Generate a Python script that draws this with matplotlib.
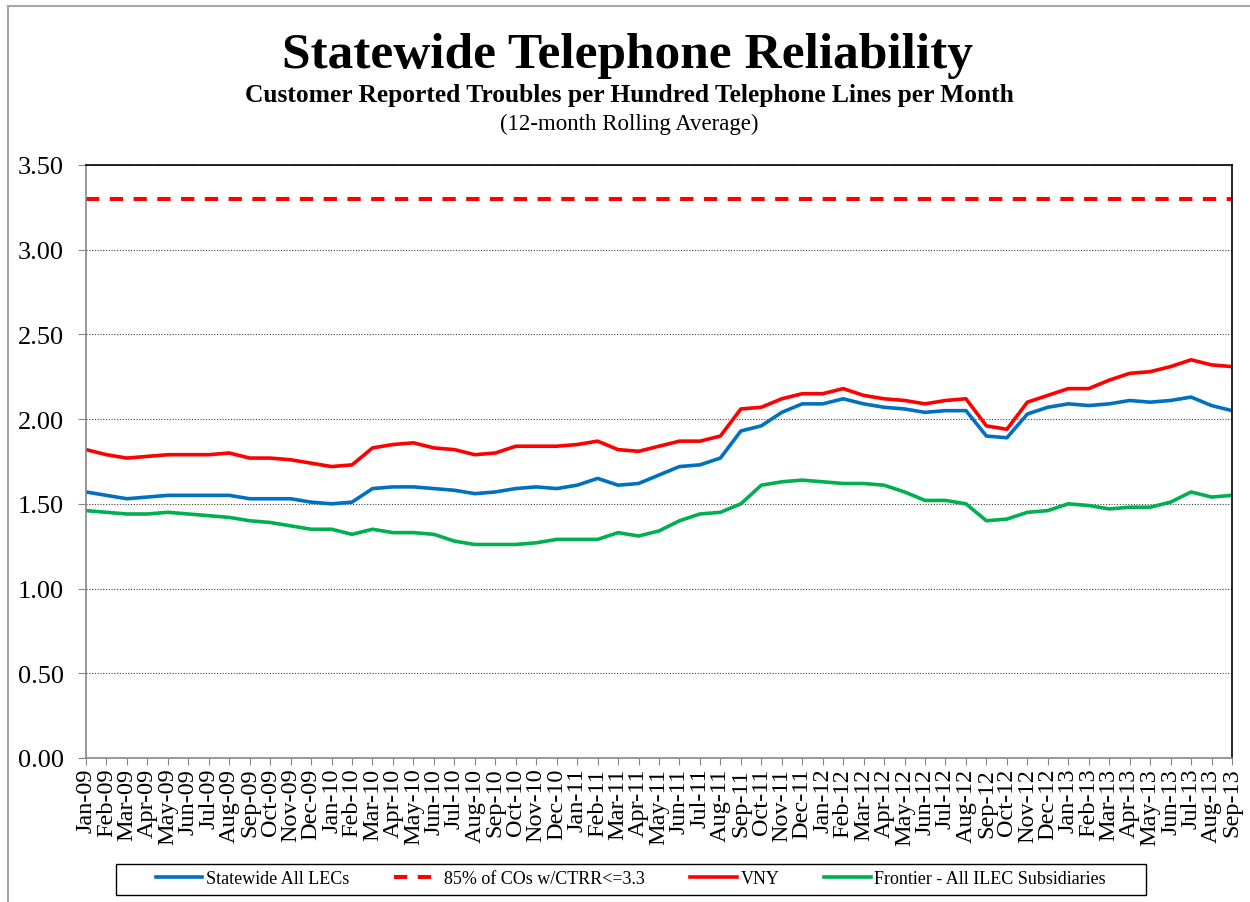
import pandas as pd
import matplotlib.pyplot as plt
from matplotlib.patches import Rectangle

# months Jan-09 .. Sep-13
months = pd.date_range('2009-01-01', '2013-09-01', freq='MS').strftime('%b-%y').tolist()

statewide = [1.57, 1.55, 1.53, 1.54, 1.55, 1.55, 1.55, 1.55, 1.53, 1.53, 1.53, 1.51,
             1.50, 1.51, 1.59, 1.60, 1.60, 1.59, 1.58, 1.56, 1.57, 1.59, 1.60, 1.59,
             1.61, 1.65, 1.61, 1.62, 1.67, 1.72, 1.73, 1.77, 1.93, 1.96, 2.04, 2.09,
             2.09, 2.12, 2.09, 2.07, 2.06, 2.04, 2.05, 2.05, 1.90, 1.89, 2.03, 2.07,
             2.09, 2.08, 2.09, 2.11, 2.10, 2.11, 2.13, 2.08, 2.05]
vny = [1.82, 1.79, 1.77, 1.78, 1.79, 1.79, 1.79, 1.80, 1.77, 1.77, 1.76, 1.74,
       1.72, 1.73, 1.83, 1.85, 1.86, 1.83, 1.82, 1.79, 1.80, 1.84, 1.84, 1.84,
       1.85, 1.87, 1.82, 1.81, 1.84, 1.87, 1.87, 1.90, 2.06, 2.07, 2.12, 2.15,
       2.15, 2.18, 2.14, 2.12, 2.11, 2.09, 2.11, 2.12, 1.96, 1.94, 2.10, 2.14,
       2.18, 2.18, 2.23, 2.27, 2.28, 2.31, 2.35, 2.32, 2.31]
frontier = [1.46, 1.45, 1.44, 1.44, 1.45, 1.44, 1.43, 1.42, 1.40, 1.39, 1.37, 1.35,
            1.35, 1.32, 1.35, 1.33, 1.33, 1.32, 1.28, 1.26, 1.26, 1.26, 1.27, 1.29,
            1.29, 1.29, 1.33, 1.31, 1.34, 1.40, 1.44, 1.45, 1.50, 1.61, 1.63, 1.64,
            1.63, 1.62, 1.62, 1.61, 1.57, 1.52, 1.52, 1.50, 1.40, 1.41, 1.45, 1.46,
            1.50, 1.49, 1.47, 1.48, 1.48, 1.51, 1.57, 1.54, 1.55]
objective = 3.3

plt.rcParams['font.family'] = ['Liberation Serif', 'DejaVu Serif']

fig = plt.figure(figsize=(12.5, 9.03), dpi=100)
ax = fig.add_axes([0.0688, 0.1595, 0.9168, 0.6567])

x = list(range(len(months)))
ax.plot(x, statewide, color='#0070C0', lw=2.6, label='Statewide All LECs')
ax.plot(x, [objective] * len(months), color='#FF0000', lw=2.9, dashes=(3.3, 2.6),
        label='85% of COs w/CTRR<=3.3')
ax.plot(x, vny, color='#FF0000', lw=2.6, label='VNY')
ax.plot(x, frontier, color='#00B050', lw=2.6, label='Frontier - All ILEC Subsidiaries')

ax.set_xlim(0, len(months) - 1)
ax.set_ylim(0, 3.5)
ax.set_yticks([0, 0.5, 1.0, 1.5, 2.0, 2.5, 3.0, 3.5])
ax.set_yticklabels([f'{v:.2f}' for v in ax.get_yticks()], fontsize=19)
ax.set_xticks(x)
ax.set_xticklabels(months, rotation=90, fontsize=17.5)
ax.tick_params(axis='y', direction='out', length=6, color='#868686', pad=10)
ax.tick_params(axis='x', direction='out', length=5, color='#868686', pad=2)

ax.grid(axis='y', linestyle=(0, (1, 1.5)), color='#404040', lw=0.8)
ax.set_axisbelow(True)
for s in ['left', 'bottom']:
    ax.spines[s].set_color('#868686')
    ax.spines[s].set_linewidth(1.2)
for s in ['top', 'right']:
    ax.spines[s].set_color('black')
    ax.spines[s].set_linewidth(1.2)

# titles
fig.text(0.5024, 1 - 68 / 903, 'Statewide Telephone Reliability', ha='center',
         va='baseline', fontsize=37, fontweight='bold')
fig.text(0.5036, 1 - 102 / 903, 'Customer Reported Troubles per Hundred Telephone Lines per Month',
         ha='center', va='baseline', fontsize=18.4, fontweight='bold')
fig.text(0.5036, 1 - 130 / 903, '(12-month Rolling Average)', ha='center',
         va='baseline', fontsize=16.5)

leg = fig.legend(loc='center', bbox_to_anchor=(0.5048, 1 - 880 / 903), ncol=4,
                 fontsize=13, frameon=False, handlelength=2.57, handletextpad=0.2,
                 columnspacing=2.5)

# legend box
fig.patches.append(Rectangle((116 / 1250, 1 - 896 / 903), 1030 / 1250, 31 / 903,
                             transform=fig.transFigure, fill=False,
                             edgecolor='black', lw=1.0))

# chart area border
fig.patches.append(Rectangle((8 / 1250, -0.05), 1.1, 1 - 7 / 903 + 0.05,
                             transform=fig.transFigure, fill=False,
                             edgecolor='#A6A6A6', lw=1.5))

fig.savefig('out.png', dpi=100)
